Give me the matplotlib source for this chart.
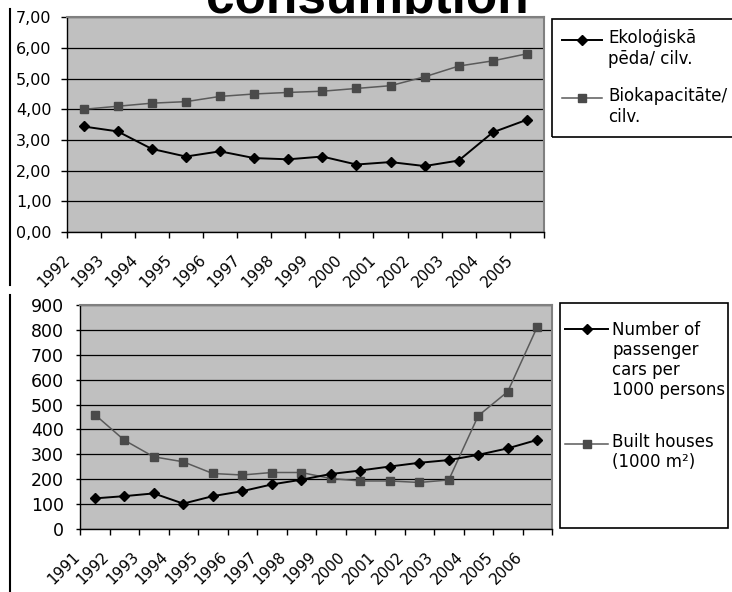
from matplotlib import pyplot as plt
from matplotlib.lines import Line2D
from matplotlib.patches import Rectangle
from matplotlib.transforms import Bbox, TransformedBbox, ScaledTranslation
import numpy as np

plt.rcParams['font.family'] = ['DejaVu Sans']

# top chart data
years_top = ['1992', '1993', '1994', '1995', '1996', '1997', '1998',
             '1999', '2000', '2001', '2002', '2003', '2004', '2005']
footprint = [3.44, 3.28, 2.71, 2.46, 2.63, 2.41, 2.37, 2.46, 2.20, 2.28, 2.15, 2.33, 3.25, 3.66]
biocapacity = [4.00, 4.10, 4.20, 4.25, 4.42, 4.50, 4.55, 4.59, 4.68, 4.77, 5.06, 5.41, 5.58, 5.81]
yticks_top = [0, 1, 2, 3, 4, 5, 6, 7]
ylabels_top = ['0,00', '1,00', '2,00', '3,00', '4,00', '5,00', '6,00', '7,00']

# bottom chart data
years_bot = ['1991', '1992', '1993', '1994', '1995', '1996', '1997', '1998',
             '1999', '2000', '2001', '2002', '2003', '2004', '2005', '2006']
cars = [123, 132, 143, 102, 132, 152, 179, 198, 221, 235, 251, 266, 277, 298, 324, 358]
houses = [460, 357, 290, 270, 223, 217, 227, 227, 203, 193, 193, 187, 197, 455, 552, 812]
yticks_bot = [0, 100, 200, 300, 400, 500, 600, 700, 800, 900]

W, H = 732, 592
fig = plt.figure(figsize=(W / 100, H / 100), dpi=100)


def px_rect(x0, y0, x1, y1):
    # pixel box (top-left origin) -> figure fraction
    return [x0 / W, 1 - y1 / H, (x1 - x0) / W, (y1 - y0) / H]


def style_axes(ax, n, yt, yl, ylim, ysize, ypad, ytick_len):
    ax.set_facecolor('#c0c0c0')
    ax.set_xlim(-0.5, n - 0.5)
    ax.set_ylim(*ylim)
    ax.set_yticks(yt)
    ax.set_yticklabels(yl, fontsize=ysize)
    ax.tick_params(axis='y', length=ytick_len, width=1, pad=ypad, color='black')
    ax.yaxis.grid(True, color='black', lw=0.9)
    ax.set_axisbelow(True)
    for s in ['top', 'right']:
        ax.spines[s].set_color('#808080')
        ax.spines[s].set_linewidth(1.5)
    for s in ['left', 'bottom']:
        ax.spines[s].set_color('black')
        ax.spines[s].set_linewidth(1)
    ax.set_xticks(np.arange(n + 1) - 0.5)
    ax.set_xticklabels([])
    ax.tick_params(axis='x', which='major', length=4, width=1, color='black')


def year_labels(ax, years, dx_px):
    ax.set_xticks(np.arange(len(years)), labels=years, minor=True)
    ax.tick_params(axis='x', which='minor', length=0, pad=14.5, labelsize=11)
    off = ScaledTranslation(dx_px / 100, 0, fig.dpi_scale_trans)
    for lab in ax.get_xticklabels(minor=True):
        lab.set_rotation(45)
        lab.set_ha('right')
        lab.set_va('top')
        lab.set_transform(lab.get_transform() + off)


def legend_box(x0, y0, x1, y1, entries):
    fig.patches.append(Rectangle((x0 / W, 1 - y1 / H), (x1 - x0) / W, (y1 - y0) / H,
                                 transform=fig.transFigure, fill=False,
                                 edgecolor='black', lw=1.2))
    for hx0, hx1, hy, style, lines, tx, ty, pitch in entries:
        fig.lines.append(Line2D([hx0 / W, hx1 / W], [1 - hy / H, 1 - hy / H],
                                transform=fig.transFigure, **style['line']))
        fig.lines.append(Line2D([(hx0 + hx1) / 2 / W], [1 - hy / H],
                                transform=fig.transFigure, ls='none', **style['marker']))
        for i, t in enumerate(lines):
            fig.text(tx / W, 1 - (ty + i * pitch) / H, t, fontsize=12,
                     ha='left', va='baseline')


diamond = {'line': dict(color='black', lw=1.4),
           'marker': dict(marker='D', ms=5, mfc='black', mec='black')}
square = {'line': dict(color='#5a5a5a', lw=1.1),
          'marker': dict(marker='s', ms=5.5, mfc='#4a4a4a', mec='#4a4a4a')}

# top chart
ax1 = fig.add_axes(px_rect(66.5, 17.3, 544, 232))
x1 = np.arange(len(years_top))
ax1.plot(x1, biocapacity, color=square['line']['color'], lw=1.1, **square['marker'])
ax1.plot(x1, footprint, color='black', lw=1.4, **diamond['marker'])
style_axes(ax1, len(years_top), yticks_top, ylabels_top, (0, 7), 11.5, 6.3, 4.5)
year_labels(ax1, years_top, -11)

# bottom chart
ax2 = fig.add_axes(px_rect(80, 305, 552, 529))
x2 = np.arange(len(years_bot))
ax2.plot(x2, houses, color=square['line']['color'], lw=1.1, **square['marker'])
ax2.plot(x2, cars, color='black', lw=1.4, **diamond['marker'])
style_axes(ax2, len(years_bot), yticks_bot, [str(v) for v in yticks_bot], (0, 900), 12.5, 8.5, 3)
year_labels(ax2, years_bot, -12)

# legends
legend_box(552, 19, 745, 137, [
    (562, 602, 40, diamond, ['Ekoloģiskā', 'pēda/ cilv.'], 608, 43, 21),
    (562, 602, 98, square, ['Biokapacitāte/', 'cilv.'], 608, 101, 21),
])
legend_box(560, 303, 728, 528, [
    (565, 608, 329, diamond, ['Number of', 'passenger', 'cars per', '1000 persons'], 612, 335, 20),
    (565, 608, 444, square, ['Built houses', '(1000 m²)'], 612, 447, 20),
])

# slide border on the left
fig.lines.append(Line2D([10 / W, 10 / W], [1 - 9 / H, 1 - 285 / H], transform=fig.transFigure,
                        color='black', lw=1.5))
fig.lines.append(Line2D([10 / W, 10 / W], [1 - 295 / H, 0], transform=fig.transFigure,
                        color='black', lw=1.5))

# title, mostly hidden above the figure
title = fig.text(367 / W, 1 - 13 / H, 'consumption', fontsize=37, fontweight='bold',
                 family='Liberation Sans', ha='center', va='baseline')
title.set_clip_box(TransformedBbox(Bbox([[0, 1 - 13.5 / H], [1, 1]]), fig.transFigure))
title.set_clip_on(True)

plt.savefig('out.png', dpi=100)
